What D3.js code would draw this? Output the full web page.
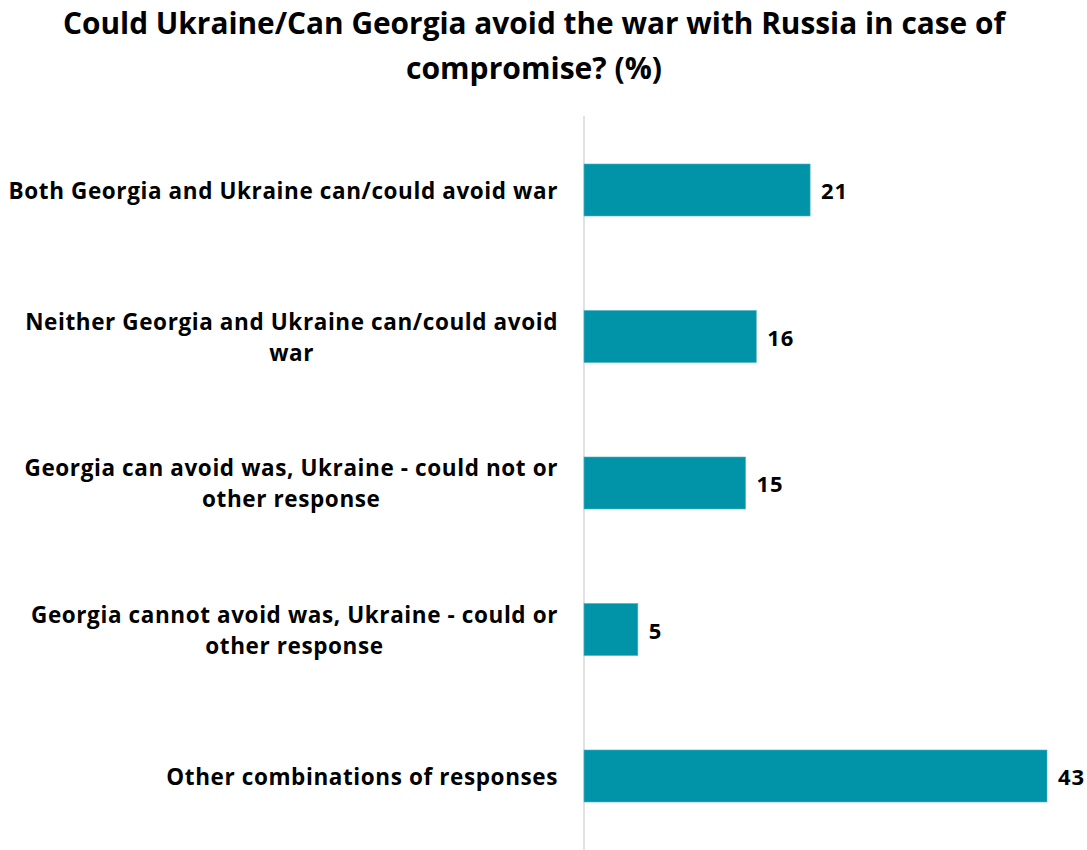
<!DOCTYPE html>
<html>
<head>
<meta charset="utf-8">
<script src="https://cdn.jsdelivr.net/npm/d3@7"></script>
<style>
  html, body { margin: 0; padding: 0; background: #fff; }
  svg { display: block; }
</style>
</head>
<body>
<svg id="chart" width="1087" height="850"></svg>
<script>
// Survey responses, one row per answer combination (percent of respondents)
const categories = [
  ["Both Georgia and Ukraine can/could avoid war"],
  ["Neither Georgia and Ukraine can/could avoid", "war"],
  ["Georgia can avoid was, Ukraine - could not or", "other response"],
  ["Georgia cannot avoid was, Ukraine - could or", "other response"],
  ["Other combinations of responses"]
];
const values = [21, 16, 15, 5, 43];
const titleLines = [
  "Could Ukraine/Can Georgia avoid the war with Russia in case of",
  "compromise? (%)"
];

const svg = d3.select("#chart");
const plotLeft = 584;
const labelRight = 558;
const barColor = "#0194a8";
const labelFont = "'Open Sans', 'Noto Sans', sans-serif";

const rows = categories.map((c, i) => ({ lines: c, value: values[i], key: i }));

const x = d3.scaleLinear().domain([0, 43]).range([plotLeft, plotLeft + 463]);
const y = d3.scaleBand()
  .domain(rows.map(d => d.key))
  .range([116.75, 849.25])
  .paddingInner(0.645)
  .paddingOuter(0.3225);

// Title (two centred lines)
const title = svg.append("g")
  .attr("font-family", "'Liberation Sans Narrow', 'Open Sans', sans-serif")
  .attr("font-weight", 700)
  .attr("font-size", 31)
  .attr("fill", "#000")
  .attr("text-anchor", "middle");
const titleWidths = [942, 256];
titleLines.forEach((t, i) => {
  title.append("text")
    .attr("x", 534)
    .attr("y", 22 + i * 45)
    .attr("dominant-baseline", "central")
    .attr("textLength", titleWidths[i])
    .attr("lengthAdjust", "spacingAndGlyphs")
    .text(t);
});

// Vertical category axis line
const yAxis = d3.axisLeft(y).tickSize(0).tickFormat("");
const axisG = svg.append("g")
  .attr("transform", `translate(${plotLeft},0)`)
  .call(yAxis);
axisG.select(".domain")
  .attr("stroke", "#d9d9d9")
  .attr("stroke-width", 1.5)
  .attr("d", `M0,116V850`);

// Bars
svg.append("g").selectAll("rect")
  .data(rows)
  .join("rect")
  .attr("x", x(0))
  .attr("y", d => y(d.key))
  .attr("width", d => x(d.value) - x(0))
  .attr("height", y.bandwidth())
  .attr("fill", barColor)
  .attr("stroke", "#4fb1c0")
  .attr("stroke-width", 0.6);

// Value labels
svg.append("g").selectAll("text")
  .data(rows)
  .join("text")
  .attr("x", d => x(d.value) + 11)
  .attr("y", d => y(d.key) + y.bandwidth() / 2)
  .attr("dominant-baseline", "central")
  .attr("font-family", labelFont)
  .attr("font-weight", 700)
  .attr("font-size", 22)
  .attr("letter-spacing", 0.8)
  .attr("fill", "#000")
  .text(d => d.value);

// Category labels: block right-aligned, lines centred within the block
const catG = svg.append("g")
  .attr("font-family", labelFont)
  .attr("font-weight", 700)
  .attr("font-size", 22.5)
  .attr("letter-spacing", 0.6)
  .attr("fill", "#000");
const lineGap = 31;
rows.forEach(d => {
  const cy = y(d.key) + y.bandwidth() / 2;
  const texts = d.lines.map((t, i) => catG.append("text")
    .attr("y", cy + (i - (d.lines.length - 1) / 2) * lineGap)
    .attr("dominant-baseline", "central")
    .attr("text-anchor", "middle")
    .text(t));
  const maxW = d3.max(texts, t => t.node().getComputedTextLength());
  texts.forEach(t => t.attr("x", labelRight - maxW / 2));
});
</script>
</body>
</html>
